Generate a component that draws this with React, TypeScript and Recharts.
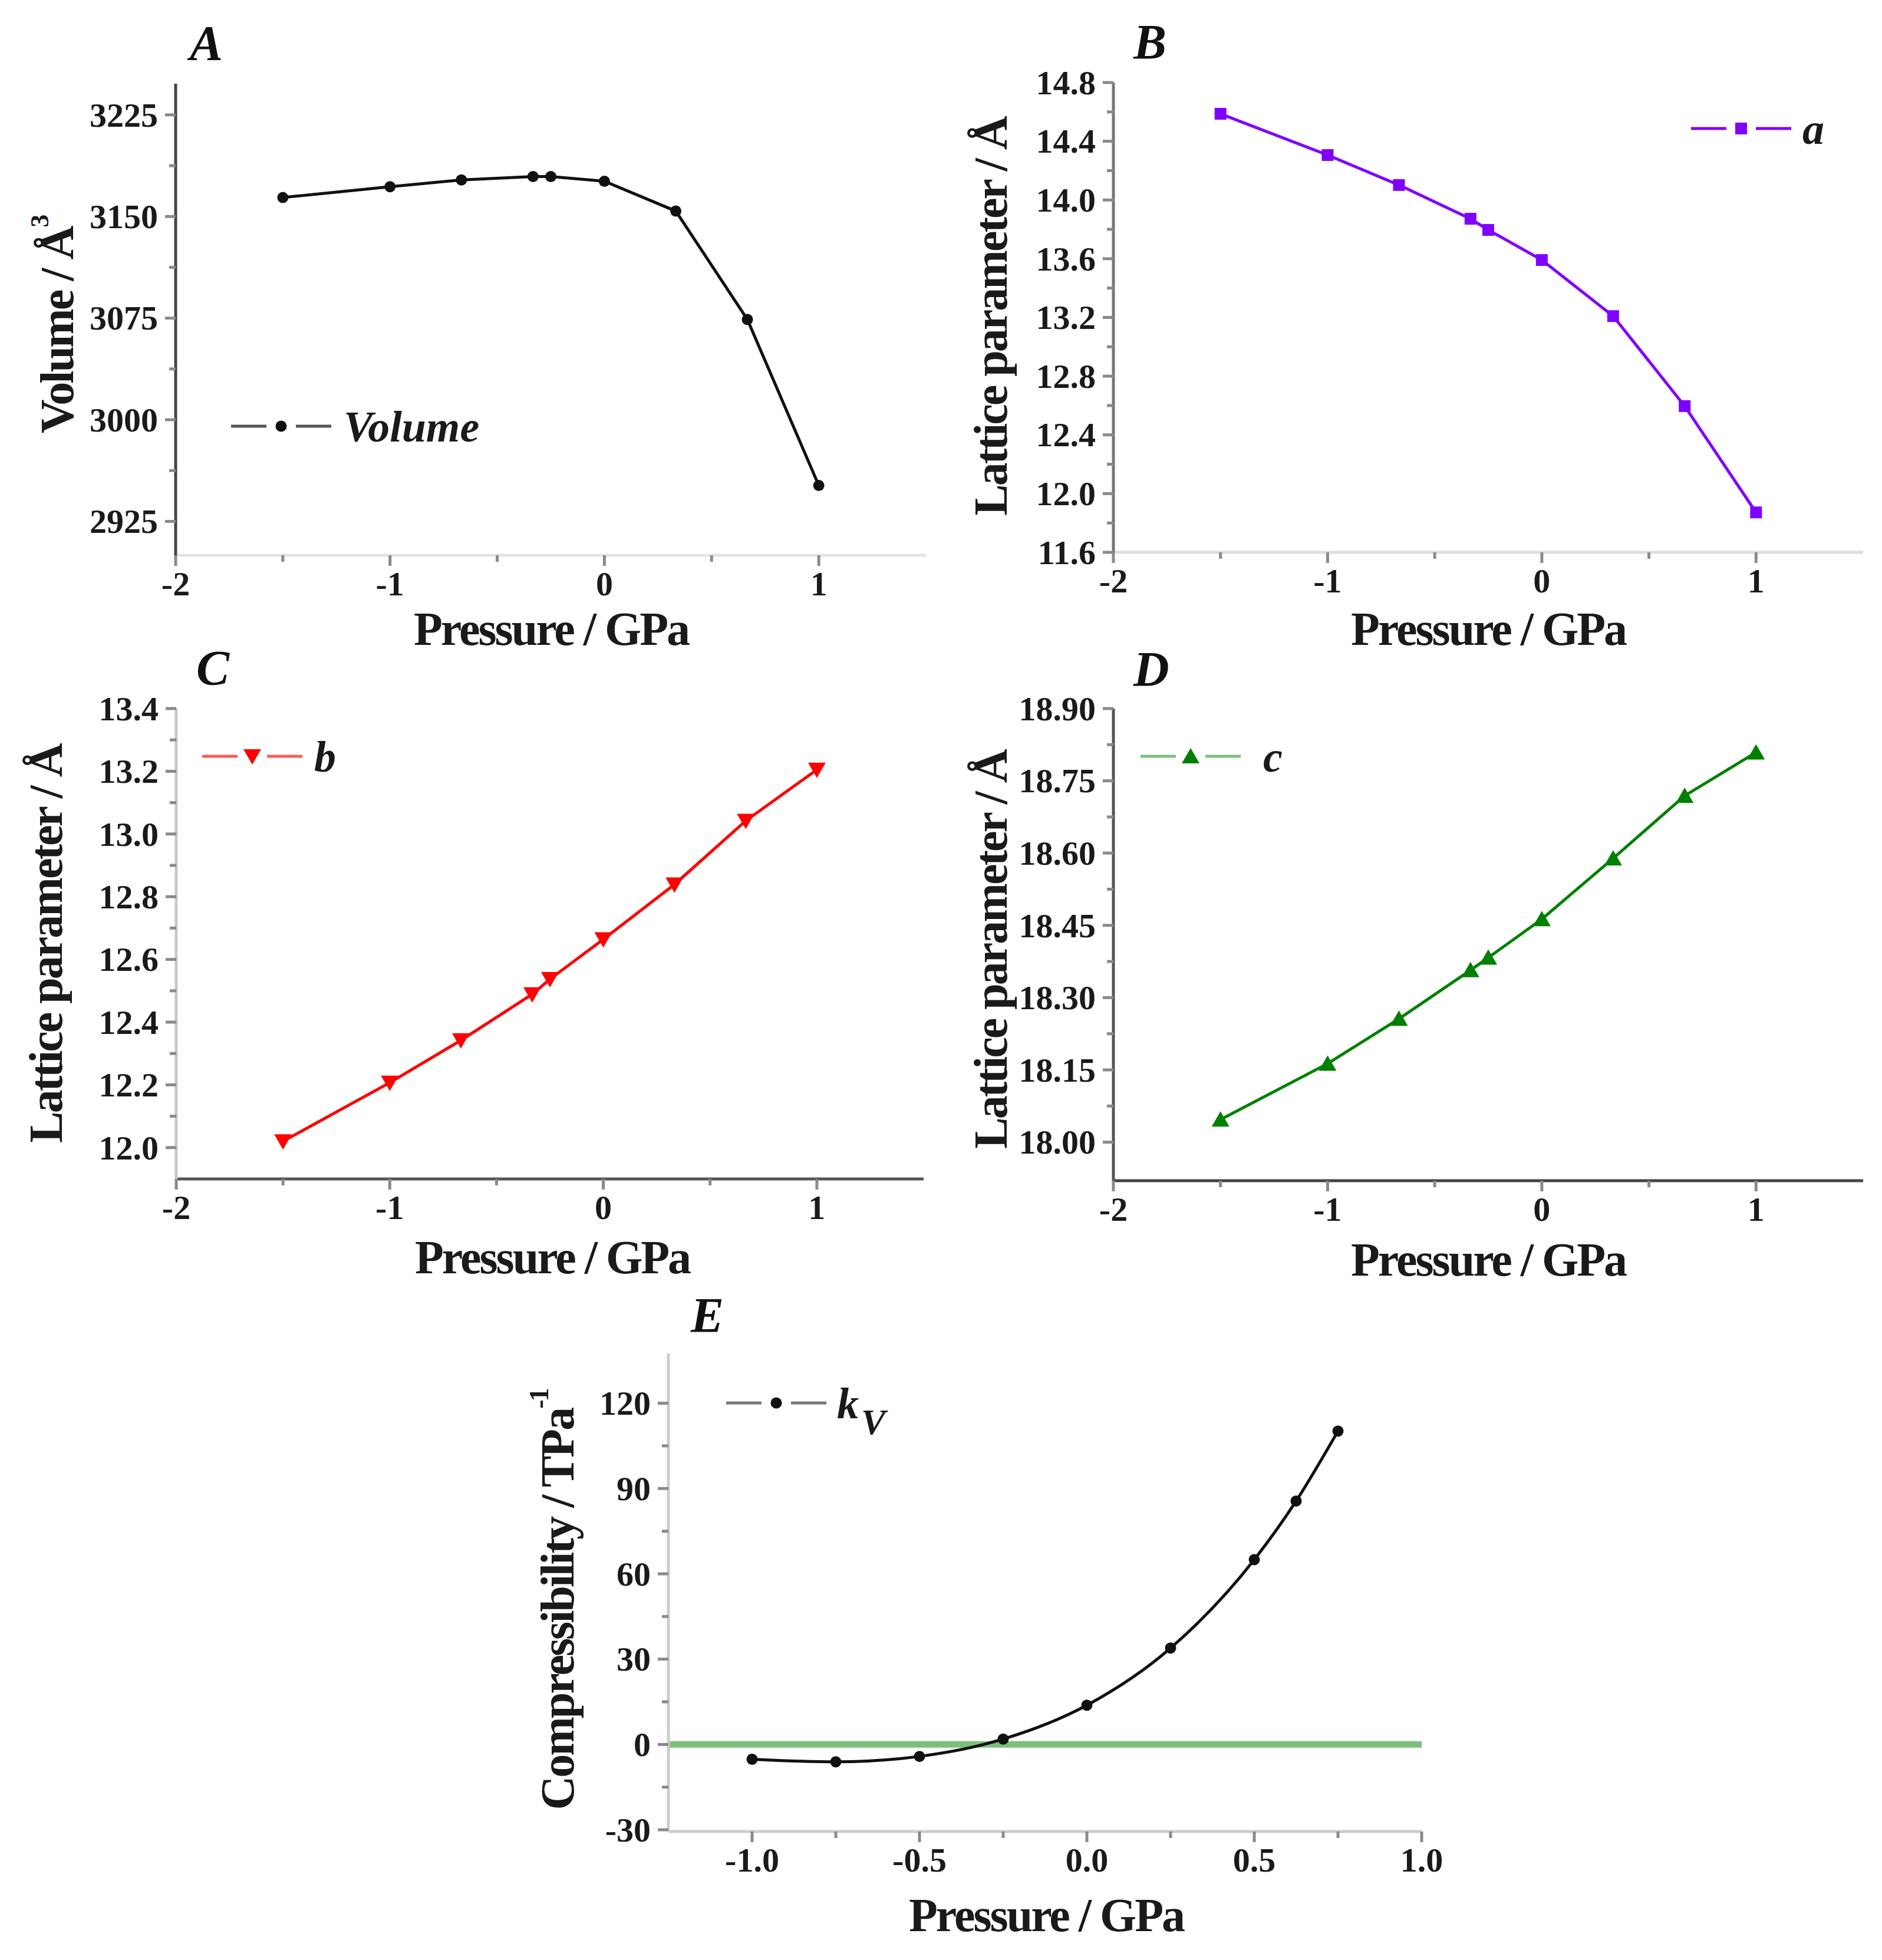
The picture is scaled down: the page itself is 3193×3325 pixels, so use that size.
import React from "react";
import { LineChart, Line, XAxis, YAxis, Legend, ReferenceLine } from "recharts";

const SERIF = '"Liberation Serif", "Times New Roman", Times, "DejaVu Serif", "Noto Serif", serif';
const ANGSTROM = "\u00C5";

// pressure points (GPa) used by panels A–D
const pressure = [-1.5, -1, -0.667, -0.333, -0.25, 0, 0.333, 0.667, 1];
const volume = [3164, 3172, 3177, 3179.5, 3179.5, 3176, 3154, 3074, 2951.5];
const latticeA = [14.587, 14.306, 14.102, 13.872, 13.796, 13.591, 13.209, 12.596, 11.872];
const latticeB = [12.02, 12.207, 12.342, 12.489, 12.537, 12.664, 12.839, 13.042, 13.205];
const latticeC = [18.047, 18.163, 18.256, 18.357, 18.383, 18.463, 18.589, 18.719, 18.809];

// compressibility panel
const pressureK = [-1, -0.75, -0.5, -0.25, 0, 0.25, 0.5, 0.625, 0.75];
const compressibility = [-5.2, -6.1, -4.2, 1.9, 13.8, 33.9, 65, 85.6, 110.2];

// axis ticks
const pressureTicks = [-2, -1, 0, 1];
const pressureMinor = [-1.5, -0.5, 0.5];
const pressureTicksK = [-1, -0.5, 0, 0.5, 1];
const pressureMinorK = [-0.75, -0.25, 0.25, 0.75];
const volumeTicks = [2925, 3000, 3075, 3150, 3225];
const volumeMinor = [2962.5, 3037.5, 3112.5, 3187.5];
const aTicks = [11.6, 12.0, 12.4, 12.8, 13.2, 13.6, 14.0, 14.4, 14.8];
const aMinor = [11.8, 12.2, 12.6, 13.0, 13.4, 13.8, 14.2, 14.6];
const bTicks = [12.0, 12.2, 12.4, 12.6, 12.8, 13.0, 13.2, 13.4];
const bMinor = [12.1, 12.3, 12.5, 12.7, 12.9, 13.1, 13.3];
const cTicks = [18.0, 18.15, 18.3, 18.45, 18.6, 18.75, 18.9];
const cMinor = [18.075, 18.225, 18.375, 18.525, 18.675, 18.825];
const kTicks = [-30, 0, 30, 60, 90, 120];
const kMinor = [-15, 15, 45, 75, 105];

const YW = 260;
const MT = 70;
const MR = 90;
const XH = 170;

type Shape = "circle" | "square" | "down" | "up";

function Marker({ shape, cx, cy, color }: { shape: Shape; cx: number; cy: number; color: string }) {
  if (shape === "square") return <rect x={cx - 10} y={cy - 10} width={20} height={20} fill={color} />;
  if (shape === "down")
    return <polygon points={`${cx - 15},${cy - 12} ${cx + 15},${cy - 12} ${cx},${cy + 14}`} fill={color} />;
  if (shape === "up")
    return <polygon points={`${cx - 15},${cy + 12} ${cx + 15},${cy + 12} ${cx},${cy - 14}`} fill={color} />;
  return <circle cx={cx} cy={cy} r={9.5} fill={color} />;
}

function makeTick(axis: "x" | "y", majors: number[], fmt: (v: number) => string, color: string) {
  const isMajor = (v: number) => majors.some((m) => Math.abs(m - v) < 1e-6);
  return (props: any) => {
    const { x, y, payload } = props;
    const v = Number(payload.value);
    const major = isMajor(v);
    const len = major ? 18 : 11;
    const label = (
      <text
        fontFamily={SERIF}
        fontWeight="bold"
        fontSize={58}
        fill="#1a1a1a"
        x={axis === "x" ? x : x - 30}
        y={axis === "x" ? y + 68 : y}
        dy={axis === "x" ? 0 : "0.34em"}
        textAnchor={axis === "x" ? "middle" : "end"}
      >
        {fmt(v)}
      </text>
    );
    return (
      <g>
        {axis === "x" ? (
          <line x1={x} x2={x} y1={y} y2={y + len} stroke={color} strokeWidth={5} />
        ) : (
          <line x1={x - len} x2={x} y1={y} y2={y} stroke={color} strokeWidth={5} />
        )}
        {major && label}
      </g>
    );
  };
}

interface PanelProps {
  box: { x0: number; y0: number; x1: number; y1: number };
  xs: number[];
  ys: number[];
  xDomain: [number, number];
  xMajor: number[];
  xMinor: number[];
  xFmt: (v: number) => string;
  yDomain: [number, number];
  yMajor: number[];
  yMinor: number[];
  yFmt: (v: number) => string;
  color: string;
  legendLine: string;
  shape: Shape;
  curve: "linear" | "monotone";
  frame: { left: string; bottom: string; top: string; right: string };
  legendAt: [number, number];
  legendGap: number;
  legendLabel: React.ReactNode;
  zeroLine?: boolean;
}

function Panel(p: PanelProps) {
  const { box } = p;
  const w = box.x1 - box.x0 + YW + MR;
  const h = box.y1 - box.y0 + MT + XH;
  const left = box.x0 - YW;
  const top = box.y0 - MT;
  const data = p.xs.map((x, i) => ({ x, y: p.ys[i] }));

  const legendContent = () => (
    <svg width={420} height={100} style={{ overflow: "visible", display: "block" }}>
      <line x1={0} x2={60} y1={50} y2={50} stroke={p.legendLine} strokeWidth={5} />
      <Marker shape={p.shape} cx={85} cy={50} color={p.color} />
      <line x1={110} x2={170} y1={50} y2={50} stroke={p.legendLine} strokeWidth={5} />
      <text
        x={p.legendGap}
        y={76}
        fontFamily={SERIF}
        fontWeight="bold"
        fontStyle="italic"
        fontSize={74}
        fill="#1a1a1a"
      >
        {p.legendLabel}
      </text>
    </svg>
  );

  return (
    <div style={{ position: "absolute", left, top, width: w, height: h }}>
      <LineChart width={w} height={h} data={data} margin={{ top: MT, right: MR, left: 0, bottom: 0 }}>
        <XAxis
          dataKey="x"
          type="number"
          domain={p.xDomain}
          allowDataOverflow
          ticks={[...p.xMajor, ...p.xMinor]}
          interval={0}
          tickSize={0}
          tickMargin={0}
          tickLine={false}
          height={XH}
          axisLine={{ stroke: p.frame.bottom, strokeWidth: 5 }}
          tick={makeTick("x", p.xMajor, p.xFmt, "#8a8a8a")}
        />
        <XAxis
          xAxisId="top"
          orientation="top"
          dataKey="x"
          type="number"
          domain={p.xDomain}
          allowDataOverflow
          height={0}
          tick={false}
          tickLine={false}
          axisLine={{ stroke: p.frame.top, strokeWidth: 5 }}
        />
        <YAxis
          type="number"
          domain={p.yDomain}
          allowDataOverflow
          ticks={[...p.yMajor, ...p.yMinor]}
          interval={0}
          tickSize={0}
          tickMargin={0}
          tickLine={false}
          width={YW}
          axisLine={{ stroke: p.frame.left, strokeWidth: 5 }}
          tick={makeTick("y", p.yMajor, p.yFmt, "#8a8a8a")}
        />
        <YAxis
          yAxisId="right"
          orientation="right"
          type="number"
          domain={p.yDomain}
          allowDataOverflow
          width={0}
          tick={false}
          tickLine={false}
          axisLine={{ stroke: p.frame.right, strokeWidth: 5 }}
        />
        {p.zeroLine && <ReferenceLine y={0} stroke="#7cbf7c" strokeWidth={11} />}
        <Line
          type={p.curve}
          dataKey="y"
          stroke={p.color}
          strokeWidth={5}
          isAnimationActive={false}
          activeDot={false}
          dot={(d: any) => <Marker key={`m-${d.index}`} shape={p.shape} cx={d.cx} cy={d.cy} color={p.color} />}
        />
        <Legend
          layout="vertical"
          align="center"
          verticalAlign="middle"
          content={legendContent}
          wrapperStyle={{
            left: p.legendAt[0] - left,
            top: p.legendAt[1] - 50 - top,
            width: 420,
            height: 100,
            lineHeight: 0,
          }}
        />
      </LineChart>
    </div>
  );
}

const intFmt = (v: number) => String(v);
const fix1 = (v: number) => v.toFixed(1);
const fix2 = (v: number) => v.toFixed(2);

const titleStyle = {
  fontFamily: SERIF,
  fontWeight: "bold" as const,
  fontSize: 80,
  letterSpacing: "-3px",
  fill: "#1a1a1a",
};

function XTitle({ x, y }: { x: number; y: number }) {
  return (
    <text x={x} y={y} textAnchor="middle" dominantBaseline="central" style={titleStyle}>
      Pressure / GPa
    </text>
  );
}

function YTitle({ x, y, children }: { x: number; y: number; children: React.ReactNode }) {
  return (
    <text
      transform={`translate(${x}, ${y}) rotate(-90)`}
      textAnchor="middle"
      dominantBaseline="central"
      style={titleStyle}
    >
      {children}
    </text>
  );
}

function Letter({ x, y, children }: { x: number; y: number; children: string }) {
  return (
    <text x={x} y={y} fontFamily={SERIF} fontWeight="bold" fontStyle="italic" fontSize={84} fill="#111">
      {children}
    </text>
  );
}

export default function App() {
  return (
    <div
      style={{
        position: "absolute",
        left: 0,
        top: 0,
        width: 3193,
        height: 3325,
        background: "#fff",
        overflow: "hidden",
      }}
    >
      <Panel
        box={{ x0: 298, y0: 142, x1: 1571, y1: 942 }}
        xs={pressure}
        ys={volume}
        xDomain={[-2, 1.5]}
        xMajor={pressureTicks}
        xMinor={pressureMinor}
        xFmt={intFmt}
        yDomain={[2900, 3248]}
        yMajor={volumeTicks}
        yMinor={volumeMinor}
        yFmt={intFmt}
        color="#111"
        legendLine="#555"
        shape="circle"
        curve="linear"
        frame={{ left: "#444", top: "#444", right: "#bbb", bottom: "#e4e4e4" }}
        legendAt={[392, 723]}
        legendGap={191}
        legendLabel="Volume"
      />
      <Panel
        box={{ x0: 1889, y0: 140, x1: 3161, y1: 937 }}
        xs={pressure}
        ys={latticeA}
        xDomain={[-2, 1.5]}
        xMajor={pressureTicks}
        xMinor={pressureMinor}
        xFmt={intFmt}
        yDomain={[11.6, 14.8]}
        yMajor={aTicks}
        yMinor={aMinor}
        yFmt={fix1}
        color="#8000ff"
        legendLine="#8000ff"
        shape="square"
        curve="linear"
        frame={{ left: "#777", top: "#ddd", right: "#ddd", bottom: "#ddd" }}
        legendAt={[2869, 218]}
        legendGap={189}
        legendLabel="a"
      />
      <Panel
        box={{ x0: 299, y0: 1202, x1: 1567, y1: 2000 }}
        xs={pressure}
        ys={latticeB}
        xDomain={[-2, 1.5]}
        xMajor={pressureTicks}
        xMinor={pressureMinor}
        xFmt={intFmt}
        yDomain={[11.9, 13.4]}
        yMajor={bTicks}
        yMinor={bMinor}
        yFmt={fix1}
        color="#ff0000"
        legendLine="#ff5a5a"
        shape="down"
        curve="linear"
        frame={{ left: "#c8c8c8", top: "#999", right: "#aaa", bottom: "#555" }}
        legendAt={[343, 1283]}
        legendGap={190}
        legendLabel="b"
      />
      <Panel
        box={{ x0: 1889, y0: 1202, x1: 3161, y1: 2003 }}
        xs={pressure}
        ys={latticeC}
        xDomain={[-2, 1.5]}
        xMajor={pressureTicks}
        xMinor={pressureMinor}
        xFmt={intFmt}
        yDomain={[17.92, 18.9]}
        yMajor={cTicks}
        yMinor={cMinor}
        yFmt={fix2}
        color="#008000"
        legendLine="#80bf80"
        shape="up"
        curve="linear"
        frame={{ left: "#555", top: "#999", right: "#aaa", bottom: "#444" }}
        legendAt={[1935, 1283]}
        legendGap={208}
        legendLabel="c"
      />
      <Panel
        box={{ x0: 1134, y0: 2296, x1: 2412, y1: 3107 }}
        xs={pressureK}
        ys={compressibility}
        xDomain={[-1.25, 1]}
        xMajor={pressureTicksK}
        xMinor={pressureMinorK}
        xFmt={fix1}
        yDomain={[-30.6, 137.5]}
        yMajor={kTicks}
        yMinor={kMinor}
        yFmt={intFmt}
        color="#111"
        legendLine="#777"
        shape="circle"
        curve="monotone"
        frame={{ left: "#ccc", top: "#555", right: "#888", bottom: "#ccc" }}
        legendAt={[1232, 2380]}
        legendGap={188}
        legendLabel={
          <>
            k
            <tspan dx={4} dy={27} fontSize={62}>
              V
            </tspan>
          </>
        }
        zeroLine
      />

      <svg
        width={3193}
        height={3325}
        style={{ position: "absolute", left: 0, top: 0, pointerEvents: "none" }}
      >
        <Letter x={322} y={102}>A</Letter>
        <Letter x={1923} y={100}>B</Letter>
        <Letter x={333} y={1162}>C</Letter>
        <Letter x={1923} y={1164}>D</Letter>
        <Letter x={1172} y={2260}>E</Letter>

        <XTitle x={935} y={1067} />
        <XTitle x={2525} y={1067} />
        <XTitle x={937} y={2133} />
        <XTitle x={2525} y={2137} />
        <XTitle x={1775} y={3249} />

        <YTitle x={97} y={551}>
          {`Volume / ${ANGSTROM}`}
          <tspan dy={-30} fontSize={44}>
            3
          </tspan>
        </YTitle>
        <YTitle x={1681} y={537}>{`Lattice parameter / ${ANGSTROM}`}</YTitle>
        <YTitle x={78} y={1601}>{`Lattice parameter / ${ANGSTROM}`}</YTitle>
        <YTitle x={1681} y={1611}>{`Lattice parameter / ${ANGSTROM}`}</YTitle>
        <YTitle x={946} y={2714}>
          Compressibility / TPa
          <tspan dy={-32} fontSize={46}>
            -1
          </tspan>
        </YTitle>
      </svg>
    </div>
  );
}
